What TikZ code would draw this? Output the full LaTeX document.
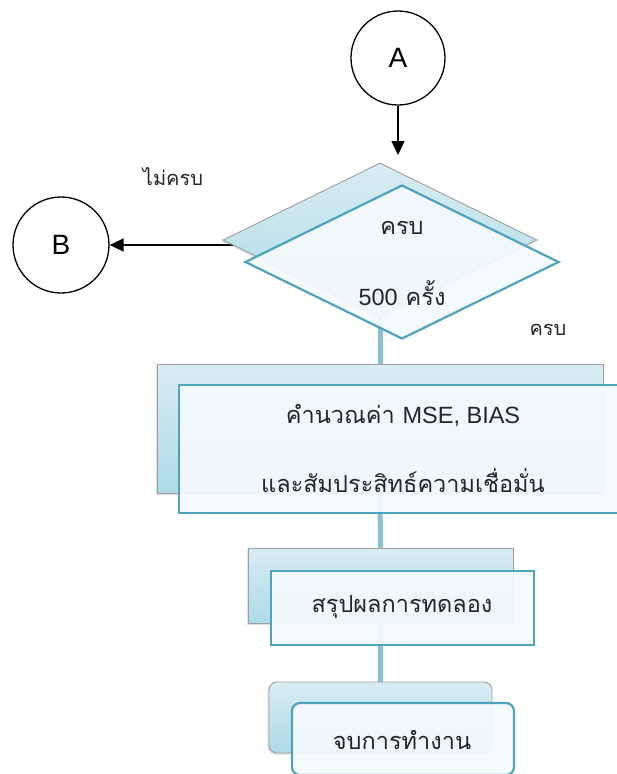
\documentclass[tikz,border=0pt]{standalone}
\usepackage{fontspec}
\setmainfont{Liberation Sans}
\newfontfamily\thai[Script=Thai]{Loma}
\newfontfamily\lat{Liberation Sans}
\usetikzlibrary{shapes.geometric,arrows.meta,backgrounds,shadows}
\definecolor{backA}{HTML}{D8ECF3}
\definecolor{backB}{HTML}{AEDAE8}
\definecolor{frontline}{HTML}{4FA3BC}
\definecolor{conn}{HTML}{86C2D4}
\definecolor{frontfill}{HTML}{F5FAFC}
\tikzset{
  backshape/.style={draw=gray!75, line width=0.9pt, top color=backA, bottom color=backB,
     drop shadow={opacity=0.25, shadow xshift=-1.5pt, shadow yshift=-1.5pt}},
  frontshape/.style={draw=frontline, line width=2.2pt, fill=frontfill, fill opacity=0.92},
  conline/.style={draw=conn, line width=5pt},
  conn circ/.style={circle, draw=black, line width=1.3pt, fill=white, inner sep=0pt},
  blackarrow/.style={draw=black, line width=1.5pt, -{Triangle[length=14pt,width=13pt]}},
  thaitext/.style={font=\thai\fontsize{23.5}{27}\selectfont, text=black!85},
  smalltext/.style={font=\thai\fontsize{20}{24}\selectfont, text=black!85},
}
\begin{document}
\begin{tikzpicture}[x=1pt,y=-1pt]
\useasboundingbox (0,0) rectangle (616,774);
% connector circles
\node[conn circ, minimum size=94pt] (A) at (398,58) {\lat\fontsize{28}{30}\selectfont A};
\node[conn circ, minimum size=96pt] (B) at (61,245) {\lat\fontsize{28}{30}\selectfont B};
% decision
\node[diamond, backshape, minimum width=314pt, minimum height=154pt, inner sep=0pt] (d0) at (380,240) {};
\node[diamond, frontshape, minimum width=314pt, minimum height=154pt, inner sep=0pt] (d1) at (402,262) {};
\node[thaitext] (dt1) at (402,228) {ครบ};
\node[thaitext] (dt2) at (402,293) {{\lat 500} ครั้ง};
% process 1
\node[rectangle, backshape, minimum width=446pt, minimum height=129pt, inner sep=0pt] (r0) at (380,428.5) {};
\node[rectangle, frontshape, minimum width=446pt, minimum height=128pt, inner sep=0pt] (r1) at (402,449) {};
\node[thaitext] (rt1) at (403,415) {คำนวณค่า {\lat MSE, BIAS}};
\node[thaitext] (rt2) at (403,480) {และสัมประสิทธ์ความเชื่อมั่น};
% process 2
\node[rectangle, backshape, minimum width=265pt, minimum height=75pt, inner sep=0pt] (s0) at (380.5,585.5) {};
\node[rectangle, frontshape, minimum width=263pt, minimum height=74pt, inner sep=0pt] (s1) at (402.5,608) {};
\node[thaitext] (st) at (402,607) {สรุปผลการทดลอง};
% end
\node[rectangle, rounded corners=8pt, backshape, minimum width=223pt, minimum height=71pt, inner sep=0pt] (u0) at (380.5,717.5) {};
\node[rectangle, rounded corners=8pt, frontshape, minimum width=222pt, minimum height=72pt, inner sep=0pt] (u1) at (403,739) {};
\node[thaitext] (ut) at (402,740) {จบการทำงาน};
% labels
\node[smalltext] (lno) at (173,177) {ไม่ครบ};
\node[smalltext] (lyes) at (548,330) {ครบ};
% connectors behind
\begin{scope}[on background layer]
  \fill[white] (0,0) rectangle (616,774);
  \path[conline] (d0.south) -- (r0.north);
  \path[conline] (r0.south) -- (s0.north);
  \path[conline] (s0.south) -- (u0.north);
  \draw[line width=1.5pt] (d0.west |- B.east) -- ++(10,0);
\end{scope}
\coordinate (atip) at (398,155);
\draw[blackarrow] (A.south) -- (atip);
\draw[blackarrow] (d0.west |- B.east) -- (B.east);
\end{tikzpicture}
\end{document}
